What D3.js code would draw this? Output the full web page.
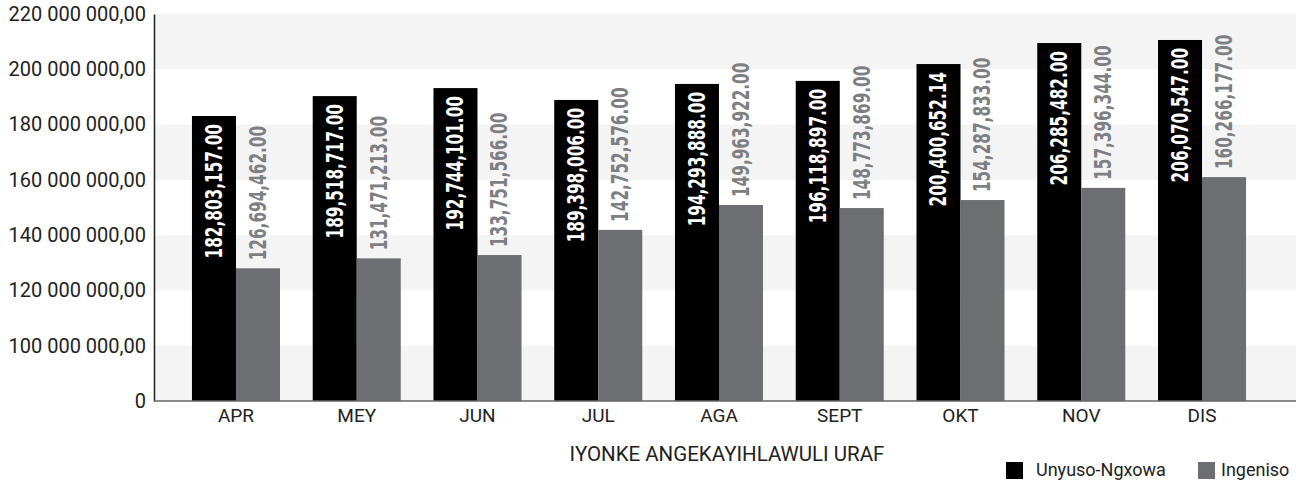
<!DOCTYPE html>
<html>
<head>
<meta charset="utf-8">
<script src="https://cdn.jsdelivr.net/npm/d3@7"></script>
<style>
  body { margin: 0; background: #fff; }
  svg { display: block; }
</style>
</head>
<body>
<div id="chart"></div>
<script>
// data
const months = ["APR", "MEY", "JUN", "JUL", "AGA", "SEPT", "OKT", "NOV", "DIS"];
const seriesNames = ["Unyuso-Ngxowa", "Ingeniso"];
const unyuso = [183.1e6, 190.3e6, 193.2e6, 188.9e6, 194.7e6, 195.8e6, 201.9e6, 209.5e6, 210.6e6];
const ingeniso = [128.0e6, 131.6e6, 132.8e6, 141.9e6, 150.9e6, 149.8e6, 152.7e6, 157.1e6, 161.0e6];
const unyusoLabels = ["182,803,157.00", "189,518,717.00", "192,744,101.00", "189,398,006.00", "194,293,888.00",
                      "196,118,897.00", "200,400,652.14", "206,285,482.00", "206,070,547.00"];
const ingenisoLabels = ["126,694,462.00", "131,471,213.00", "133,751,566.00", "142,752,576.00", "149,963,922.00",
                        "148,773,869.00", "154,287,833.00", "157,396,344.00", "160,266,177.00"];
const yTicks = [80e6, 100e6, 120e6, 140e6, 160e6, 180e6, 200e6, 220e6];
const yTickLabels = ["0", "100 000 000,00", "120 000 000,00", "140 000 000,00", "160 000 000,00",
                     "180 000 000,00", "200 000 000,00", "220 000 000,00"];
const axisTitle = "IYONKE ANGEKAYIHLAWULI URAF";

const W = 1296, H = 481;
const plot = { left: 154, top: 14, right: 1296, bottom: 401 };
const colors = ["#000000", "#6d6e71"];
const labelFont = "'DejaVu Sans Condensed', 'DejaVu Sans', sans-serif";
const axisFont = "'Century Gothic', Roboto, sans-serif";

const svg = d3.select("#chart").append("svg")
  .attr("width", W)
  .attr("height", H);

const y = d3.scaleLinear().domain([80e6, 220e6]).range([plot.bottom, plot.top]);
const x = d3.scaleBand().domain(months).range([175.6, 1262.4])
  .paddingInner(0.271).paddingOuter(0.1355);
const xs = d3.scaleBand().domain(seriesNames).range([0, x.bandwidth()]);

// alternating bands
svg.append("g").selectAll("rect")
  .data(d3.range(0, yTicks.length - 1, 2))
  .join("rect")
  .attr("x", plot.left)
  .attr("width", plot.right - plot.left)
  .attr("y", i => y(yTicks[i + 1]))
  .attr("height", i => y(yTicks[i]) - y(yTicks[i + 1]))
  .attr("fill", "#f4f4f4");

const rows = months.map((m, i) => ({ m, vals: [unyuso[i], ingeniso[i]], labs: [unyusoLabels[i], ingenisoLabels[i]] }));

const groups = svg.append("g").selectAll("g")
  .data(rows)
  .join("g")
  .attr("transform", d => `translate(${x(d.m)},0)`);

groups.selectAll("rect")
  .data(d => d.vals.map((v, k) => ({ k, v })))
  .join("rect")
  .attr("x", d => xs(seriesNames[d.k]))
  .attr("width", xs.bandwidth())
  .attr("y", d => y(d.v))
  .attr("height", d => y(80e6) - y(d.v))
  .attr("fill", d => colors[d.k]);

// data labels (black inside end, grey outside end); stretched across to look condensed
groups.selectAll("text")
  .data(d => d.vals.map((v, k) => ({ k, v, lab: d.labs[k] })))
  .join("text")
  .attr("transform", d => {
    const cx = xs(seriesNames[d.k]) + xs.bandwidth() / 2;
    const ty = d.k === 0 ? y(d.v) + 8 : y(d.v) - 8;
    return `translate(${cx},${ty}) rotate(-90) scale(1,1.3)`;
  })
  .attr("text-anchor", d => d.k === 0 ? "end" : "start")
  .attr("dy", "0.36em")
  .style("font-family", labelFont)
  .style("font-weight", "bold")
  .style("font-size", "17px")
  .attr("fill", d => d.k === 0 ? "#ffffff" : "#7d7f82")
  .text(d => d.lab);

// y axis
const yAxis = svg.append("g")
  .attr("transform", `translate(${plot.left},0)`)
  .call(d3.axisLeft(y).tickValues(yTicks).tickFormat((d, i) => yTickLabels[i]).tickSize(0).tickPadding(8));
yAxis.select(".domain").attr("stroke", "#222").attr("stroke-width", 1.5);
yAxis.selectAll("text")
  .style("font-family", axisFont)
  .style("font-size", "20px")
  .attr("fill", "#222");

// x axis
const xAxis = svg.append("g")
  .attr("transform", `translate(0,${plot.bottom})`)
  .call(d3.axisBottom(x).tickSize(0).tickPadding(8));
xAxis.select(".domain").remove();
xAxis.append("line")
  .attr("x1", plot.left).attr("x2", plot.right)
  .attr("stroke", "#666").attr("stroke-width", 1.5);
xAxis.selectAll("text")
  .style("font-family", axisFont)
  .style("font-size", "19px")
  .attr("fill", "#222");

svg.append("text")
  .attr("x", 727)
  .attr("y", 461)
  .attr("text-anchor", "middle")
  .style("font-family", axisFont)
  .style("font-size", "20.5px")
  .attr("fill", "#222")
  .text(axisTitle);

// legend
const legendX = [1006, 1198];
const legend = svg.append("g").selectAll("g")
  .data(seriesNames)
  .join("g")
  .attr("transform", (d, i) => `translate(${legendX[i]},462)`);
legend.append("rect")
  .attr("width", 17).attr("height", 17)
  .attr("fill", (d, i) => colors[i]);
legend.append("text")
  .attr("x", (d, i) => i === 0 ? 30 : 23)
  .attr("y", 14)
  .style("font-family", axisFont)
  .style("font-size", "18px")
  .attr("fill", "#222")
  .text(d => d);
</script>
</body>
</html>
